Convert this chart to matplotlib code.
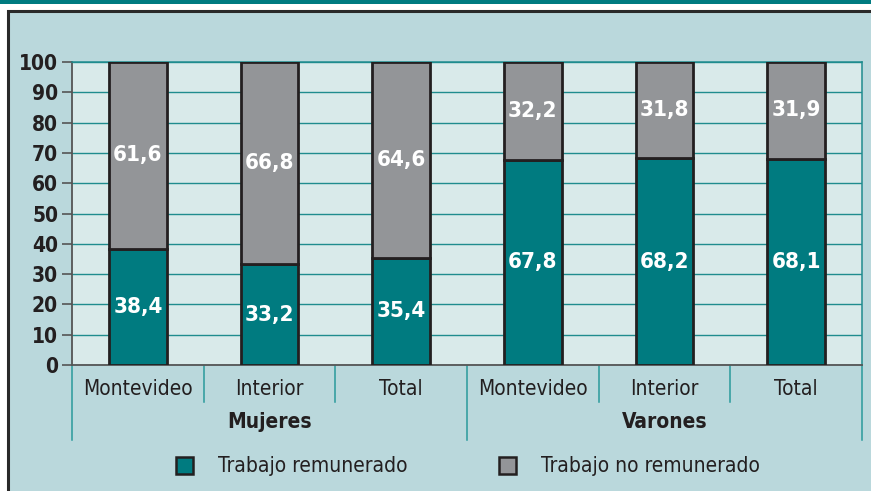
import matplotlib
matplotlib.use('Agg')
import matplotlib.pyplot as plt
from matplotlib.patches import Rectangle
from matplotlib.lines import Line2D
import matplotlib.transforms as mtransforms

categories = ['Montevideo', 'Interior', 'Total', 'Montevideo', 'Interior', 'Total']
groups = ['Mujeres', 'Varones']
remunerado = [38.4, 33.2, 35.4, 67.8, 68.2, 68.1]
no_remunerado = [61.6, 66.8, 64.6, 32.2, 31.8, 31.9]
yticks = list(range(0, 101, 10))
series_names = ['Trabajo remunerado', 'Trabajo no remunerado']

TEAL = '#007b80'
GREY = '#939598'
EDGE = '#231f20'
FRAME_BG = '#bad8dc'
PLOT_BG = '#d9eaea'
GRID = '#1f8c8e'
AXIS = '#555555'
plt.rcParams['font.family'] = ['DejaVu Sans']
plt.rcParams['font.stretch'] = 'condensed'

W, H = 871, 491
fig = plt.figure(figsize=(W / 100, H / 100), dpi=100)
fig.patch.set_facecolor('white')

# top strip and outer frame
fig.patches.append(Rectangle((0, 1 - 4 / H), 1, 4 / H, transform=fig.transFigure,
                             facecolor=TEAL, edgecolor='none', zorder=0))
fig.patches.append(Rectangle((8 / W, -0.02), 1.0, 1 - 11 / H + 0.02, transform=fig.transFigure,
                             facecolor=FRAME_BG, edgecolor='#2a2a2a', linewidth=2.2, zorder=0))

ax = fig.add_axes([72 / W, (H - 365) / H, (862 - 72) / W, (365 - 62) / H])
ax.set_zorder(5)
ax.set_facecolor(PLOT_BG)
x = list(range(len(categories)))
bw = 0.44
ax.bar(x, remunerado, width=bw, color=TEAL, edgecolor=EDGE, linewidth=2, zorder=3)
ax.bar(x, no_remunerado, width=bw, bottom=remunerado, color=GREY, edgecolor=EDGE,
       linewidth=2, zorder=3)

for xi, r, n in zip(x, remunerado, no_remunerado):
    ax.text(xi, r / 2, f'{r:.1f}'.replace('.', ','), ha='center', va='center',
            color='white', fontsize=16, fontweight='bold', zorder=4)
    ax.text(xi, r + n / 2, f'{n:.1f}'.replace('.', ','), ha='center', va='center',
            color='white', fontsize=16, fontweight='bold', zorder=4)

ax.set_xlim(-0.5, len(categories) - 0.5)
ax.set_ylim(0, 100)
ax.set_yticks(yticks)
ax.set_yticklabels([str(t) for t in yticks], fontsize=15, fontweight='bold', color='#231f20')
ax.set_xticks([])
ax.yaxis.grid(True, color=GRID, linewidth=1.0, zorder=1)
ax.set_axisbelow(True)
ax.tick_params(axis='y', direction='out', length=7, width=1.2, color=AXIS, pad=3)
for side in ['top', 'right']:
    ax.spines[side].set_color(GRID)
    ax.spines[side].set_linewidth(1.1)
for side in ['left', 'bottom']:
    ax.spines[side].set_color(AXIS)
    ax.spines[side].set_linewidth(1.3)

trans = mtransforms.blended_transform_factory(ax.transData, ax.transAxes)
ah = 365 - 62
for b in range(len(categories) + 1):
    bx = b - 0.5
    depth = 75 if b % 3 == 0 else 37
    ax.add_line(Line2D([bx, bx], [-1 / ah, -depth / ah], transform=trans, color='#2a9a9c',
                       linewidth=1.1, clip_on=False))

for xi, c in zip(x, categories):
    ax.text(xi, -24 / ah, c, transform=trans, ha='center', va='center', fontsize=15,
            color='#231f20')
for gi, g in enumerate(groups):
    ax.text(gi * 3 + 1, -57 / ah, g, transform=trans, ha='center', va='center',
            fontsize=15, fontweight='bold', color='#231f20')

# legend
for lx, tx, col, name in [(176, 218, TEAL, series_names[0]), (499, 541, GREY, series_names[1])]:
    fig.patches.append(Rectangle((lx / W, 1 - 474 / H), 17 / W, 17 / H, transform=fig.transFigure,
                                 facecolor=col, edgecolor=EDGE, linewidth=1.8, zorder=2))
    fig.text(tx / W, 1 - 466 / H, name, ha='left', va='center', fontsize=15, color='#231f20')

fig.savefig('out.png', dpi=100, facecolor=fig.get_facecolor())
